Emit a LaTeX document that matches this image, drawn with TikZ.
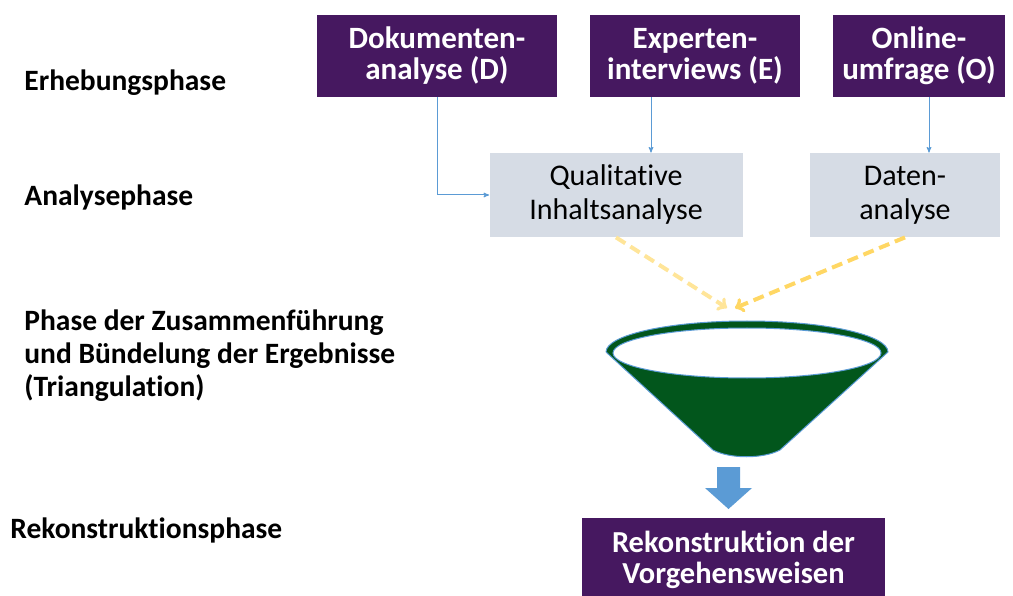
\documentclass[tikz,border=0pt]{standalone}
\usepackage{fontspec}
\setmainfont{Carlito}[Ligatures=NoCommon]
\usetikzlibrary{arrows,positioning}

\definecolor{violett}{RGB}{70,24,96}
\definecolor{hellgrau}{RGB}{214,220,229}
\definecolor{linienblau}{RGB}{91,155,213}
\definecolor{trichtergruen}{RGB}{2,86,28}
\definecolor{gelbhell}{RGB}{255,229,153}
\definecolor{gelb}{RGB}{255,215,100}

\begin{document}
\begin{tikzpicture}[x=1pt,y=-1pt,>=stealth',thick,
                    method node/.style={fill=violett,text=white,font=\fontsize{31}{31}\selectfont\bfseries,
                                        align=center,minimum height=82pt,inner sep=0pt},
                    step node/.style={fill=hellgrau,align=center,minimum height=84pt,inner sep=0pt,
                                      font=\fontsize{30}{34}\selectfont},
                    phase label/.style={anchor=west,align=left,font=\fontsize{29.5}{33}\selectfont\bfseries,inner sep=0pt},
                    feed/.style={line width=4pt,dash pattern=on 11pt off 6pt,-to}]

  \useasboundingbox (0,0) rectangle (1013,596);

  % phases
  \node[phase label] (erh) at (24,83) {Erhebungsphase};
  \node[phase label] (ana) at (24,197) {Analysephase};
  \node[phase label] (tri) at (24,356) {Phase der Zusammenf\"uhrung\\und B\"undelung der Ergebnisse\\(Triangulation)};
  \node[phase label] (rkp) at (10,530) {Rekonstruktionsphase};

  % methods
  \node[method node,minimum width=240pt] (doc) at (437,56) {Dokumenten-\\analyse (D)};
  \node[method node,minimum width=210pt] (exp) at (695,56) {Experten-\\interviews (E)};
  \node[method node,minimum width=172pt] (onl) at (919,56) {Online-\\umfrage (O)};

  \node[step node,minimum width=253pt] (qual) at (616,195) {Qualitative\\Inhaltsanalyse};
  \node[step node,minimum width=190pt] (dat) at (905,195) {Daten-\\analyse};

  \draw[linienblau,line width=1pt,->] (doc.south) |- (qual.west);
  \draw[linienblau,line width=1pt,->] ([xshift=-44pt]exp.south) -- ([xshift=-44pt]exp.south |- qual.north);
  \draw[linienblau,line width=1pt,->] ([xshift=10pt]onl.south) -- ([xshift=10pt]onl.south |- dat.north);

  % funnel
  \coordinate (inL) at (727,308);
  \coordinate (inR) at (735,308);
  \draw[gelbhell,feed] (qual.south) -- (inL);
  \draw[gelb,feed] (dat.south) -- (inR);

  \fill[trichtergruen,draw=linienblau,line width=1pt]
    (606,352) -- (713,450) .. controls (730,459) and (763,459) .. (780,450) -- (888,352)
    arc[start angle=0,end angle=-180,x radius=141,y radius=31];
  \draw[fill=white,draw=linienblau,line width=1pt] (747,353) ellipse[x radius=134,y radius=25];

  \node[method node,minimum width=303pt,minimum height=82pt,font=\fontsize{30.5}{31}\selectfont\bfseries,
        anchor=north] (rek) at (733.5,518) {Rekonstruktion der\\Vorgehensweisen};

  \fill[linienblau] (717,467) -- (740,467) -- (740,488) -- (752,488) -- (728.5,509)
    -- (705,488) -- (717,488) -- cycle;
\end{tikzpicture}
\end{document}
